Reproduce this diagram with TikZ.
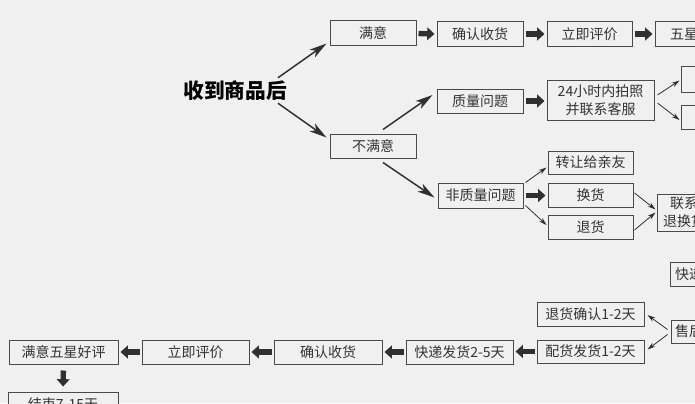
\documentclass[tikz,border=0pt]{standalone}
\usepackage{fontspec}
\setmainfont{Noto Sans CJK SC}
\usetikzlibrary{arrows.meta,calc}
\definecolor{bgc}{HTML}{F0F0F0}
\definecolor{boxc}{HTML}{4A4A4A}
\definecolor{txtc}{HTML}{333333}
\definecolor{arrc}{HTML}{303030}
\begin{document}
\begin{tikzpicture}[x=0.75pt,y=-0.75pt,
  box/.style={draw=boxc,line width=0.75pt,fill=bgc,inner sep=0pt,text=txtc,
    font=\fontsize{10.5}{13.5}\selectfont,align=center,minimum height=18pt},
  blk/.style={draw=arrc,line width=4pt,-{Triangle[length=5.5pt,width=9.5pt]},shorten <=1.5pt,shorten >=1.5pt},
  thin/.style={draw=arrc,line width=0.6pt,-{Stealth[length=6pt,width=3.6pt]}},
  big/.style={draw=arrc,line width=1.1pt,-{Stealth[length=13pt,width=7pt,inset=3.5pt]}}]
\useasboundingbox (0,0) rectangle (695,403);
\clip (0,0) rectangle (695,403);
\fill[bgc] (0,0) rectangle (695,403);

% title
\node[inner sep=0pt,font=\fontsize{15.5}{18}\selectfont\bfseries,text=black] (title) at (235,91) {收到商品后};

% top row
\node[box,minimum width=64.5pt,minimum height=18.75pt] (sat) at (373,33.5) {满意};
\node[box,minimum width=64.5pt,minimum height=18.75pt] (conf1) at (480,34) {确认收货};
\node[box,minimum width=63.75pt,minimum height=18.75pt] (eval1) at (589.5,34) {立即评价};
\node[box,minimum width=64.5pt,minimum height=18.75pt] (five) at (698,34) {五星好评};

% unsatisfied branch
\node[box,minimum width=64.5pt] (unsat) at (373,146) {不满意};
\node[box,minimum width=64.5pt] (qual) at (480,101) {质量问题};
\node[box,minimum width=80.25pt,minimum height=30pt] (photo) at (600.5,100) {24小时内拍照\\并联系客服};
\node[box,minimum width=64.5pt,minimum height=18.75pt] (r1) at (724,79.5) {};
\node[box,minimum width=64.5pt] (r2) at (724,117) {};

\node[box,minimum width=63.75pt,minimum height=18.75pt] (nonq) at (480.5,195.5) {非质量问题};
\node[box,minimum width=63.75pt,minimum height=17.25pt] (transfer) at (590.5,162.5) {转让给亲友};
\node[box,minimum width=63.75pt] (exch) at (590.5,195) {换货};
\node[box,minimum width=63.75pt] (ret) at (590.5,227) {退货};
\node[box,minimum width=61.5pt,minimum height=27.75pt] (contact) at (698,212.5) {联系客服\\退换货事宜};

\node[box,minimum width=49.5pt] (express) at (703,274) {快递寄回};
\node[box,minimum width=48pt,minimum height=17.25pt] (after) at (703,331.5) {售后处理};

% bottom row
\node[box,minimum width=80.25pt] (retconf) at (590.5,314) {退货确认1-2天};
\node[box,minimum width=80.25pt,minimum height=17.25pt] (dist) at (590.5,351.5) {配货发货1-2天};
\node[box,minimum width=80.25pt] (ship) at (459.5,352) {快递发货2-5天};
\node[box,minimum width=81pt] (conf2) at (328,352) {确认收货};
\node[box,minimum width=80.25pt] (eval2) at (195.5,352) {立即评价};
\node[box,minimum width=81.75pt] (five2) at (63.5,352) {满意五星好评};
\node[box,minimum width=82.5pt] (end) at (63,404) {结束7-15天};

% main arrows
\draw[big] ([shift={(-9,-3)}]title.north east) -- ([shift={(-3,-3)}]sat.south west);
\draw[big] ([shift={(-9,2)}]title.south east) -- ([shift={(-3,4)}]unsat.north west);
\draw[big] ([shift={(10,-4)}]unsat.north) -- ([shift={(-4,-6)}]qual.west);
\draw[big] ([shift={(10,4)}]unsat.south) -- ([shift={(-3,2)}]nonq.west);

% block arrows
\draw[blk] (sat.east) -- (conf1.west);
\draw[blk] (conf1.east) -- (eval1.west);
\draw[blk] (eval1.east) -- (five.west);
\draw[blk] (qual.east) -- (qual.east -| photo.west);
\draw[blk] (nonq.east) -- (nonq.east -| exch.west);
\draw[blk] (dist.west) -- (dist.west -| ship.east);
\draw[blk] (ship.west) -- (conf2.east);
\draw[blk] (conf2.west) -- (eval2.east);
\draw[blk] (eval2.west) -- (five2.east);
\draw[blk,shorten <=4.5pt,shorten >=3.75pt] (five2.south) -- (end.north);

% thin arrows
\draw[thin] ([shift={(3,-5)}]photo.east) -- ([shift={(-1,1)}]r1.west);
\draw[thin] ([shift={(3,3)}]photo.east) -- ([shift={(-1,3)}]r2.west);
\draw[thin] ([shift={(2,0)}]nonq.north east) -- ([shift={(-1,5)}]transfer.west);
\draw[thin] ([shift={(2,-3)}]nonq.south east) -- ([shift={(-1,-2)}]ret.west);
\draw[thin] ([shift={(1,-2)}]exch.east) -- ([shift={(-1,-3)}]contact.west);
\draw[thin] ([shift={(1,3)}]ret.east) -- ([shift={(-1,0)}]contact.west);
\draw[thin] ([shift={(-3,-2)}]after.west) -- ([shift={(3,1)}]retconf.east);
\draw[thin] ([shift={(-3,3)}]after.west) -- ([shift={(3,-2)}]dist.east);
\end{tikzpicture}
\end{document}
